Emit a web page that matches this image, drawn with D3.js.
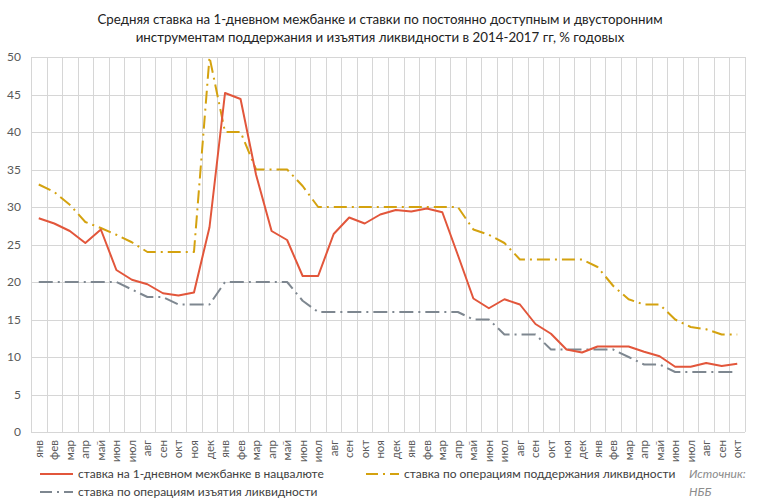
<!DOCTYPE html>
<html><head><meta charset="utf-8">
<script src="https://cdn.jsdelivr.net/npm/d3@7"></script>
<style>body{margin:0;background:#fff}svg{display:block}</style>
</head><body>
<svg id="c" width="760" height="503"></svg>
<script>
const months = ["янв","фев","мар","апр","май","июн","июл","авг","сен","окт","ноя","дек",
"янв","фев","мар","апр","май","июн","июл","авг","сен","окт","ноя","дек",
"янв","фев","мар","апр","май","июн","июл","авг","сен","окт","ноя","дек",
"янв","фев","мар","апр","май","июн","июл","авг","сен","окт"];
const interbank = [28.5,27.8,26.8,25.2,27.0,21.6,20.3,19.7,18.5,18.2,18.6,27.3,
45.2,44.4,34.3,26.8,25.6,20.8,20.8,26.4,28.6,27.8,29.0,29.6,
29.4,29.8,29.3,23.6,17.8,16.5,17.7,17.0,14.4,13.1,11.0,10.6,
11.4,11.4,11.4,10.7,10.1,8.7,8.7,9.2,8.8,9.1];
const maintenance = [33,32,30.3,28,27.2,26.3,25.3,24,24,24,24,50,
40,40,35,35,35,32.8,30,30,30,30,30,30,
30,30,30,30,27,26.3,25.2,23,23,23,23,23,
22,19.5,17.7,17,17,15,14,13.7,13,13];
const withdrawal = [20,20,20,20,20,20,19,18,18,17,17,17,
20,20,20,20,20,17.5,16,16,16,16,16,16,
16,16,16,16,15,15,13,13,13,11,11,11,
11,11,10,9,9,8,8,8,8,8];
const yTicks = [0,5,10,15,20,25,30,35,40,45,50];
const seriesNames = ["ставка на 1-дневном межбанке в нацвалюте","ставка по операциям поддержания ликвидности","ставка по операциям изъятия ликвидности"];

const svg = d3.select("#c");
const font = "Lato, 'Open Sans', sans-serif";
const L=31, R=745, T=57, B=432;
const x = d3.scaleBand().domain(d3.range(months.length)).range([L,R]).padding(0);
const y = d3.scaleLinear().domain([0,50]).range([B,T]);

// title
const title = svg.append("text").attr("text-anchor","middle").attr("font-family",font)
  .attr("font-size",13.3).attr("fill","#222");
title.append("tspan").attr("x",380).attr("y",24).text("Средняя ставка на 1-дневном межбанке и ставки по постоянно доступным и двусторонним");
title.append("tspan").attr("x",380).attr("y",42).text("инструментам поддержания и изъятия ликвидности в 2014-2017 гг, % годовых");

// grid
const grid = svg.append("g").attr("stroke","#d6d6d6").attr("stroke-width",1);
yTicks.forEach(t=>grid.append("line").attr("x1",L).attr("x2",R).attr("y1",Math.round(y(t))+0.5).attr("y2",Math.round(y(t))+0.5));
d3.range(months.length+1).forEach(i=>{
  const xx = i<months.length? x(i) : R;
  grid.append("line").attr("x1",Math.round(xx)+0.5).attr("x2",Math.round(xx)+0.5).attr("y1",T).attr("y2",B);
});

// y axis labels
const ya = svg.append("g").attr("transform",`translate(${L},0)`)
  .call(d3.axisLeft(y).tickValues(yTicks).tickSize(0).tickPadding(10));
ya.select(".domain").remove();
ya.selectAll("text").attr("font-family",font).attr("font-size",12).attr("fill","#595959");

// x axis labels
const xa = svg.append("g").attr("transform",`translate(0,${B})`)
  .call(d3.axisBottom(x).tickFormat(i=>months[i]).tickSize(0));
xa.select(".domain").remove();
xa.selectAll("text").attr("font-family",font).attr("font-size",11.5).attr("fill","#595959")
  .attr("text-anchor","end").attr("transform","rotate(-90)").attr("x",-8).attr("y",0).attr("dy","0.35em");

// clip
svg.append("clipPath").attr("id","pc").append("rect").attr("x",L).attr("y",T-1).attr("width",R-L).attr("height",B-T+1);

const line = d3.line().x((d,i)=>x(i)+x.bandwidth()/2).y(d=>y(d));
const styles = [
  {data:interbank,color:"#E2563B",dash:null,w:2},
  {data:maintenance,color:"#D4A20F",dash:"13,5,2,5",w:2},
  {data:withdrawal,color:"#7E8790",dash:"14,5,2,5",w:2}
];
const g = svg.append("g").attr("clip-path","url(#pc)");
[2,1,0].forEach(k=>{
  const s=styles[k];
  g.append("path").datum(s.data).attr("d",line).attr("fill","none")
   .attr("stroke",s.color).attr("stroke-width",s.w).attr("stroke-dasharray",s.dash).attr("stroke-linejoin","round");
});

// legend
const leg = svg.append("g").attr("font-family",font).attr("font-size",12).attr("fill","#404040");
const legPos = [{x:40,y:474},{x:366,y:474},{x:40,y:492}];
legPos.forEach((p,k)=>{
  const s=styles[k];
  leg.append("line").attr("x1",p.x).attr("x2",p.x+33).attr("y1",p.y).attr("y2",p.y)
    .attr("stroke",s.color).attr("stroke-width",2).attr("stroke-dasharray",s.dash?"12,5,2,5":null);
  leg.append("text").attr("x",p.x+38).attr("y",p.y).attr("dy","0.35em").text(seriesNames[k]);
});
leg.append("text").attr("x",689).attr("y",474).attr("dy","0.35em").attr("font-style","italic").attr("fill","#8c8c8c").text("Источник:");
leg.append("text").attr("x",689).attr("y",492).attr("dy","0.35em").attr("font-style","italic").attr("fill","#8c8c8c").text("НББ");
</script>
</body></html>
